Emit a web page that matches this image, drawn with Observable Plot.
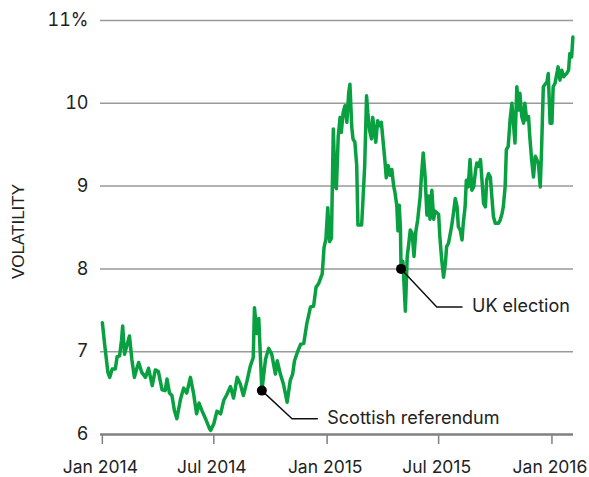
<!DOCTYPE html>
<html>
<head>
<meta charset="utf-8">
<script src="https://cdn.jsdelivr.net/npm/d3@7"></script>
<script src="https://cdn.jsdelivr.net/npm/@observablehq/plot@0.6"></script>
<style>
  html, body { margin: 0; padding: 0; background: #fff; }
  #chart svg { display: block; }
</style>
</head>
<body>
<div id="chart"></div>
<script>
// ---- data ----
const dates = [
  "2014-01-01","2014-01-05","2014-01-10","2014-01-13","2014-01-17","2014-01-22","2014-01-25","2014-01-29","2014-02-01","2014-02-03",
  "2014-02-06","2014-02-09","2014-02-14","2014-02-18","2014-02-22","2014-02-26","2014-03-01","2014-03-06","2014-03-12","2014-03-17",
  "2014-03-23","2014-03-28","2014-04-02","2014-04-08","2014-04-13","2014-04-16","2014-04-20","2014-04-24","2014-04-28","2014-05-02",
  "2014-05-08","2014-05-13","2014-05-18","2014-05-24","2014-05-29","2014-06-03","2014-06-07","2014-06-11","2014-06-17","2014-06-24",
  "2014-06-26","2014-07-01","2014-07-06","2014-07-12","2014-07-17","2014-07-22","2014-07-28","2014-08-02","2014-08-08","2014-08-13",
  "2014-08-18","2014-08-24","2014-08-29","2014-09-03","2014-09-05","2014-09-09","2014-09-12","2014-09-14","2014-09-17","2014-09-23",
  "2014-09-28","2014-10-03","2014-10-09","2014-10-12","2014-10-17","2014-10-22","2014-10-28","2014-11-02","2014-11-06","2014-11-09",
  "2014-11-14","2014-11-19","2014-11-24","2014-11-29","2014-12-05","2014-12-10","2014-12-14","2014-12-18","2014-12-24","2014-12-27",
  "2014-12-30","2015-01-02","2015-01-05","2015-01-08","2015-01-11","2015-01-14","2015-01-16","2015-01-19","2015-01-22","2015-01-24",
  "2015-01-27","2015-01-30","2015-02-02","2015-02-05","2015-02-07","2015-02-10","2015-02-12","2015-02-15","2015-02-18","2015-02-20",
  "2015-02-26","2015-02-28","2015-03-03","2015-03-06","2015-03-08","2015-03-11","2015-03-14","2015-03-16","2015-03-21","2015-03-24",
  "2015-03-27","2015-03-30","2015-04-02","2015-04-05","2015-04-07","2015-04-10","2015-04-13","2015-04-16","2015-04-19","2015-04-21",
  "2015-04-24","2015-04-26","2015-04-28","2015-04-30","2015-05-01","2015-05-04","2015-05-08","2015-05-11","2015-05-13","2015-05-16",
  "2015-05-19","2015-05-22","2015-05-25","2015-05-28","2015-06-01","2015-06-03","2015-06-06","2015-06-09","2015-06-12","2015-06-15",
  "2015-06-17","2015-06-20","2015-06-23","2015-06-25","2015-07-01","2015-07-03","2015-07-06","2015-07-09","2015-07-12","2015-07-14",
  "2015-07-17","2015-07-20","2015-07-22","2015-07-25","2015-07-28","2015-07-31","2015-08-02","2015-08-05","2015-08-08","2015-08-10",
  "2015-08-13","2015-08-15","2015-08-18","2015-08-21","2015-08-24","2015-08-27","2015-08-30","2015-09-01","2015-09-04","2015-09-07",
  "2015-09-09","2015-09-12","2015-09-15","2015-09-17","2015-09-20","2015-09-23","2015-09-25","2015-09-28","2015-10-01","2015-10-06",
  "2015-10-09","2015-10-12","2015-10-14","2015-10-17","2015-10-19","2015-10-22","2015-10-25","2015-10-28","2015-10-30","2015-11-02",
  "2015-11-05","2015-11-08","2015-11-10","2015-11-13","2015-11-16","2015-11-18","2015-11-21","2015-11-24","2015-11-26","2015-11-29",
  "2015-12-02","2015-12-05","2015-12-10","2015-12-13","2015-12-15","2015-12-18","2015-12-24","2015-12-26","2015-12-29","2016-01-01",
  "2016-01-03","2016-01-06","2016-01-09","2016-01-11","2016-01-14","2016-01-17","2016-01-20","2016-01-22","2016-01-25","2016-01-28",
  "2016-01-30","2016-02-02","2016-02-04"
];
const volatility = [
  7.35,7.07,6.75,6.69,6.79,6.79,6.94,6.95,7.13,7.31,
  6.97,7.05,7.19,6.90,6.69,6.80,6.87,6.75,6.69,6.80,
  6.59,6.78,6.76,6.54,6.53,6.67,6.50,6.47,6.29,6.19,
  6.43,6.56,6.50,6.69,6.50,6.25,6.38,6.30,6.20,6.07,
  6.05,6.13,6.28,6.25,6.41,6.48,6.58,6.44,6.69,6.61,
  6.47,6.65,6.82,6.93,7.53,7.22,7.40,7.05,6.53,6.91,
  7.04,6.97,6.73,6.89,6.73,6.61,6.39,6.65,6.73,6.89,
  7.00,7.09,7.10,7.34,7.54,7.55,7.78,7.82,7.94,8.26,
  8.36,8.74,8.33,8.37,9.69,9.00,8.97,9.60,9.83,9.65,
  9.89,9.97,9.77,10.13,10.23,9.71,9.57,9.53,9.25,8.53,
  8.53,8.81,9.25,10.09,9.89,9.67,9.57,9.83,9.53,9.79,
  9.73,9.77,9.53,9.29,9.10,9.25,9.13,9.20,9.00,8.93,
  8.77,8.46,8.77,8.49,8.00,8.09,7.49,8.15,8.27,8.47,
  8.43,8.15,8.45,8.59,8.87,9.11,9.40,9.12,8.65,8.88,
  8.60,8.95,8.60,8.70,8.66,8.39,8.11,7.90,8.07,8.27,
  8.31,8.43,8.51,8.67,8.85,8.75,8.51,8.47,8.35,8.55,
  8.75,9.07,8.99,9.32,8.95,8.99,9.19,9.28,9.24,9.32,
  9.11,8.79,8.75,9.07,9.15,9.11,8.91,8.63,8.55,8.55,
  8.59,8.67,8.75,8.99,9.44,9.48,9.80,10.00,9.80,9.52,
  10.20,9.92,10.12,9.84,9.76,10.00,9.80,9.84,9.60,9.32,
  9.11,9.36,9.28,8.99,9.40,10.20,10.26,10.36,9.76,9.76,
  10.20,10.24,10.36,10.44,10.28,10.40,10.32,10.34,10.36,10.40,
  10.60,10.56,10.80
];
const yTicks = [6, 7, 8, 9, 10, 11];
const xTickDates = ["2014-01-01","2014-07-01","2015-01-01","2015-07-01","2016-01-01"];
const xTickLabels = ["Jan 2014","Jul 2014","Jan 2015","Jul 2015","Jan 2016"];
const xDomain = ["2013-12-29","2016-02-05"];

// annotations
const eventLabels = ["Scottish referendum", "UK election"];
const eventDates = ["2014-09-17", "2015-05-01"];
const eventValues = [6.53, 8.0];
const elbowDates = ["2014-11-05", "2015-06-28"];
const elbowValues = [6.19, 7.54];
const labelDates = ["2014-12-16", "2015-08-08"];

// ---- build tables ----
const series = dates.map((d, i) => ({date: new Date(d), value: volatility[i]}));
const events = eventLabels.map((label, i) => ({
  label, date: new Date(eventDates[i]), value: eventValues[i]
}));
const leaders = eventLabels.flatMap((label, i) => [
  {label, date: new Date(eventDates[i]), value: eventValues[i]},
  {label, date: new Date(elbowDates[i]), value: elbowValues[i]},
  {label, date: new Date(labelDates[i]), value: elbowValues[i]}
]);
const labels = eventLabels.map((label, i) => ({
  label, date: new Date(labelDates[i]), value: elbowValues[i]
}));
const xTicks = xTickDates.map((d, i) => ({date: new Date(d), label: xTickLabels[i]}));

const chart = Plot.plot({
  width: 589,
  height: 477,
  marginLeft: 100,
  marginRight: 16,
  marginTop: 20,
  marginBottom: 43,
  style: {fontFamily: "Inter, Roboto, sans-serif", fontSize: "18px", color: "#222", background: "#fff"},
  x: {type: "utc", domain: xDomain.map(d => new Date(d))},
  y: {domain: [6, 11]},
  marks: [
    Plot.ruleY(yTicks.filter(d => d > 6), {stroke: "#999", strokeWidth: 1.5}),
    Plot.axisY({
      ticks: yTicks, tickSize: 0, tickPadding: 12, label: null,
      tickFormat: d => d === 11 ? "11%" : String(d),
      fontSize: 18, fill: "#222"
    }),
    Plot.axisX({
      ticks: xTicks.map(d => d.date), tickSize: 10,
      tickFormat: () => "", label: null,
      stroke: "#808080", strokeWidth: 1.5
    }),
    Plot.text(xTicks, {
      x: "date", text: "label", frameAnchor: "bottom", lineAnchor: "middle",
      dy: 33, dx: -2, fontSize: 17.5, fill: "#222"
    }),
    Plot.ruleY([6], {stroke: "#808080", strokeWidth: 2.5}),
    Plot.line(series, {x: "date", y: "value", stroke: "#08a040", strokeWidth: 3.5, strokeLinejoin: "round"}),
    Plot.line(leaders, {x: "date", y: "value", z: "label", stroke: "#111", strokeWidth: 1.5}),
    Plot.dot(events, {x: "date", y: "value", r: 5, fill: "#000"}),
    Plot.text(labels, {x: "date", y: "value", text: "label", textAnchor: "start", dx: 10, dy: -1, fontSize: 18, fill: "#222"}),
    Plot.text(["VOLATILITY"], {
      frameAnchor: "left", rotate: -90, dx: -82, dy: 4, text: d => d, textAnchor: "middle",
      fontFamily: "Liberation Sans, Arial, sans-serif", fontSize: 17, fill: "#222", lineAnchor: "middle"
    })
  ]
});
document.getElementById("chart").appendChild(chart);
</script>
</body>
</html>
